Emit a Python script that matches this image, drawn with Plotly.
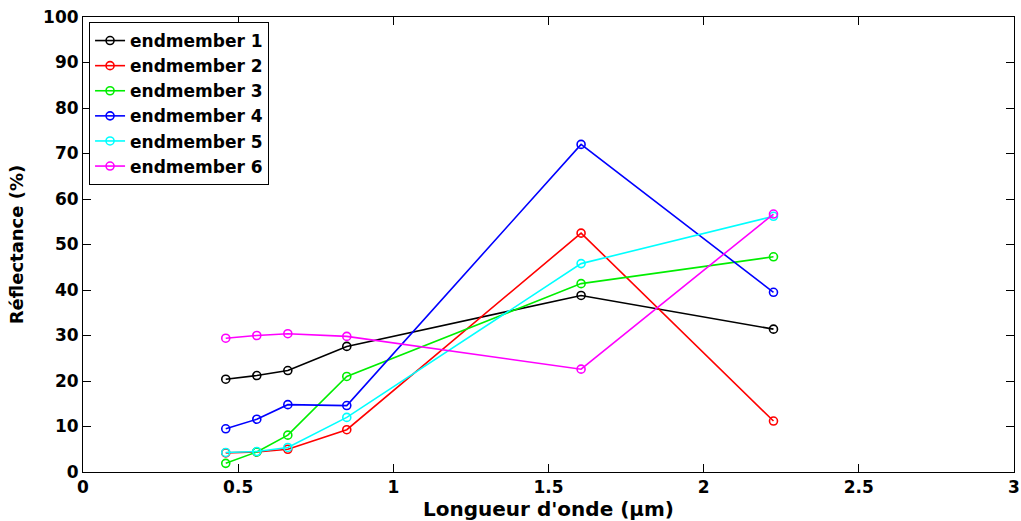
import plotly.graph_objects as go

wavelengths = [0.46, 0.56, 0.66, 0.85, 1.605, 2.225]
series_names = ["endmember 1", "endmember 2", "endmember 3", "endmember 4", "endmember 5", "endmember 6"]
em1 = [20.4, 21.2, 22.3, 27.6, 38.8, 31.4]
em2 = [4.2, 4.4, 5.0, 9.3, 52.5, 11.2]
em3 = [1.9, 4.4, 8.1, 21.0, 41.4, 47.3]
em4 = [9.5, 11.6, 14.8, 14.6, 72.0, 39.5]
em5 = [4.3, 4.5, 5.4, 12.0, 45.8, 56.2]
em6 = [29.4, 30.0, 30.4, 29.8, 22.6, 56.7]
colors = ["#000000", "#ff0000", "#00ee00", "#0000ff", "#00ffff", "#ff00ff"]
x_ticks = [0, 0.5, 1, 1.5, 2, 2.5, 3]
x_ticklabels = ["0", "0.5", "1", "1.5", "2", "2.5", "3"]
y_ticks = [0, 10, 20, 30, 40, 50, 60, 70, 80, 90, 100]

fig = go.Figure()
for name, vals, col in zip(series_names, [em1, em2, em3, em4, em5, em6], colors):
    fig.add_trace(go.Scatter(
        x=wavelengths, y=vals, name=name, mode="lines+markers",
        line=dict(color=col, width=1.6),
        marker=dict(symbol="circle-open", size=8, color=col, line=dict(width=1.6, color=col)),
    ))

font_family = "DejaVu Sans, Liberation Sans, sans-serif"
fig.update_layout(
    width=1021, height=521,
    margin=dict(l=83, r=7, t=17, b=49, autoexpand=False),
    paper_bgcolor="white", plot_bgcolor="white",
    font=dict(family=font_family, size=17, color="black", weight="bold"),
    showlegend=True,
    legend=dict(x=0.0065, y=0.989, xanchor="left", yanchor="top",
                bordercolor="black", borderwidth=1, bgcolor="white",
                font=dict(family=font_family, size=17, color="black", weight="bold"),
                tracegroupgap=0, itemwidth=30),
    xaxis=dict(range=[0, 3], tickvals=x_ticks, ticktext=x_ticklabels, automargin=False,
               ticklabeloverflow="allow",
               showgrid=False, zeroline=False, showline=True, linecolor="black", linewidth=1,
               mirror="ticks", ticks="inside", ticklen=8, tickcolor="black",
               tickfont=dict(size=17),
               title=dict(text="Longueur d'onde (µm)", standoff=2,
                          font=dict(size=20, weight="bold"))),
    yaxis=dict(range=[0, 100], tickvals=y_ticks, automargin=False,
               ticklabeloverflow="allow",
               showgrid=False, zeroline=False, showline=True, linecolor="black", linewidth=1,
               mirror="ticks", ticks="inside", ticklen=8, tickcolor="black",
               tickfont=dict(size=17),
               title=dict(text="Réflectance (%)", standoff=14,
                          font=dict(size=18, weight="bold"))),
)

fig.write_html(
    "out.html",
    config={"displayModeBar": False},
    post_script="document.body.style.margin='0';document.body.style.overflow='hidden';",
)
